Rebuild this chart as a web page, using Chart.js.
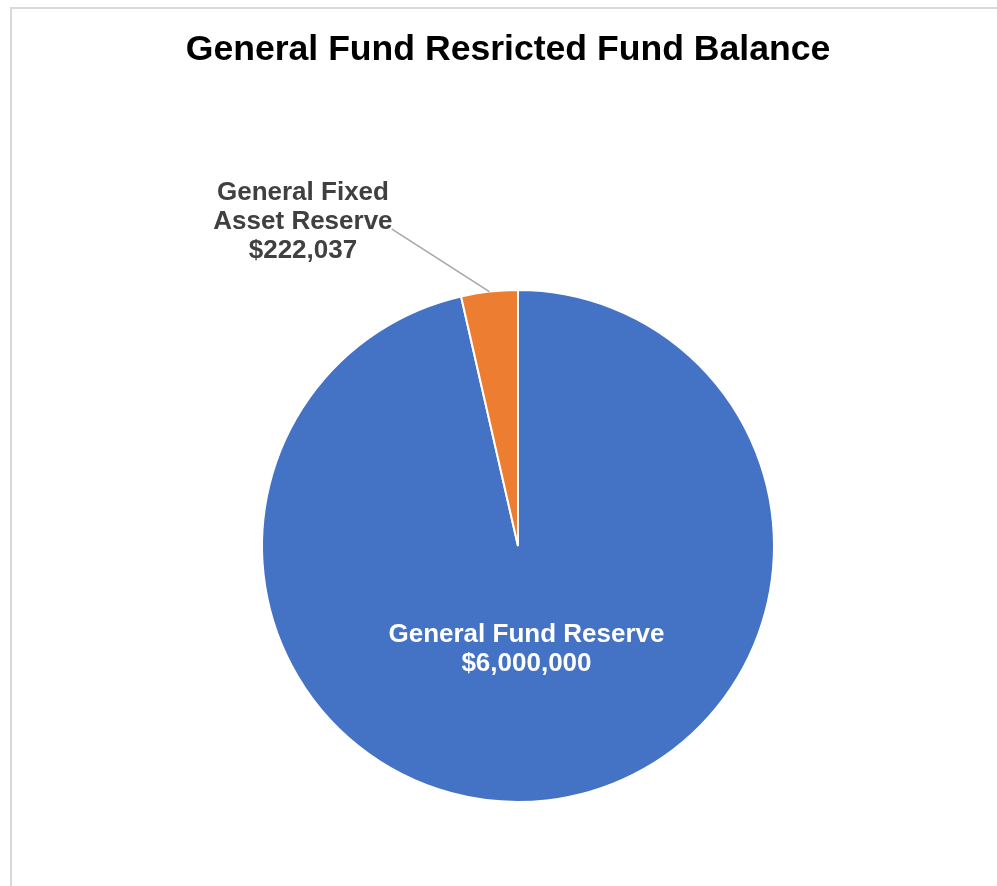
<!DOCTYPE html>
<html>
<head>
<meta charset="utf-8">
<script src="https://cdn.jsdelivr.net/npm/chart.js@4/dist/chart.umd.min.js"></script>
<style>
    html, body { margin: 0; padding: 0; background: #ffffff; overflow: hidden; }
    #frame {
        position: absolute; left: 10px; top: 7px;
        width: 1100px; height: 1000px;
        border: 2px solid #d9d9d9; box-sizing: border-box;
    }
    #wrap { position: absolute; left: 0; top: 0; width: 997px; height: 886px; }
</style>
</head>
<body>
<div id="frame"></div>
<div id="wrap"><canvas id="fund-balance"></canvas></div>
<script>

    'use strict';

    const chartTitle = 'General Fund Resricted Fund Balance';
    const categories = ['General Fund Reserve', 'General Fixed Asset Reserve'];
    const labelLines = [['General Fund Reserve'], ['General Fixed', 'Asset Reserve']];
    const balances = [6000000, 222037];

    const FONT = '"Liberation Sans", Arial, sans-serif';

    const formatMoney = function (v) {
        return '$' + v.toLocaleString('en-US');
    };

    // title + slice labels drawn by hand, Excel style
    const excelLabels = {
        id: 'excelLabels',
        afterDatasetsDraw: function (chart) {
            const ctx = chart.ctx;
            const arcs = chart.getDatasetMeta(0).data;
            const cx = arcs[0].x, cy = arcs[0].y, r = arcs[0].outerRadius;

            ctx.save();
            ctx.textAlign = 'center';
            ctx.textBaseline = 'middle';

            // title
            ctx.fillStyle = '#000000';
            ctx.font = 'bold 35.6px ' + FONT;
            ctx.fillText(chartTitle, 508, 50);

            ctx.font = 'bold 26px ' + FONT;
            const lineH = 29;

            // big slice: inside, along the middle angle
            const big = arcs[0];
            const mid0 = (big.startAngle + big.endAngle) / 2;
            const lines0 = labelLines[0].concat([formatMoney(balances[0])]);
            let bx = cx + Math.cos(mid0) * r * 0.4 - 3;
            let by = cy + Math.sin(mid0) * r * 0.4 + 2 - (lines0.length - 1) * lineH / 2;
            ctx.fillStyle = '#ffffff';
            lines0.forEach(function (t, i) { ctx.fillText(t, bx, by + i * lineH); });

            // small slice: outside with leader line
            const small = arcs[1];
            const mid1 = (small.startAngle + small.endAngle) / 2;
            const lines1 = labelLines[1].concat([formatMoney(balances[1])]);
            const lx = cx - r * 0.84, ly = cy - r * 1.265;
            const ex = cx + Math.cos(mid1) * r, ey = cy + Math.sin(mid1) * r;

            ctx.strokeStyle = '#a6a6a6';
            ctx.lineWidth = 1.5;
            ctx.beginPath();
            ctx.moveTo(lx + 89, ly + 7);
            ctx.lineTo(ex, ey);
            ctx.stroke();

            ctx.fillStyle = '#404040';
            lines1.forEach(function (t, i) { ctx.fillText(t, lx, ly - lineH + i * lineH); });
            ctx.restore();
        }
    };

    const DATA = {
        labels: categories,
        datasets: [{
            data: balances,
            backgroundColor: ['#4472c4', '#ed7d31'],
            borderColor: '#ffffff',
            borderWidth: 2
        }]
    };

    const CONFIG = {
        type: 'pie',
        data: DATA,
        options: {
            responsive: true,
            maintainAspectRatio: false,
            animation: false,
            layout: {
                padding: { top: 289, bottom: 83, left: 100, right: 61 }
            },
            plugins: {
                legend: { display: false },
                tooltip: { enabled: false },
                title: { display: false }
            }
        },
        plugins: [excelLabels]
    };

    const pie_chart = new Chart(document.querySelector('#fund-balance'), CONFIG);

</script>
</body>
</html>
